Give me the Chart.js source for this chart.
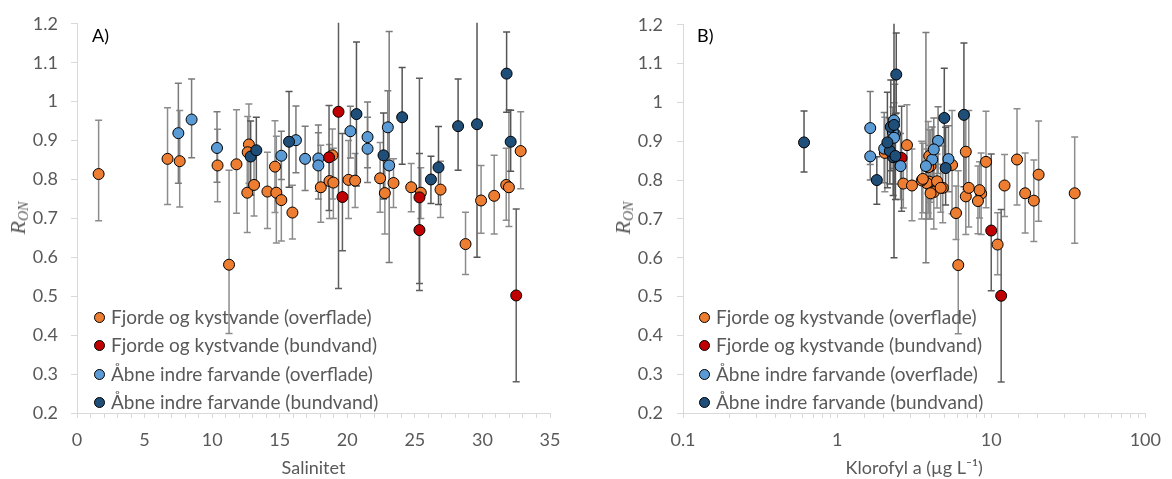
<!DOCTYPE html>
<html>
<head>
<meta charset="utf-8">
<script src="https://cdn.jsdelivr.net/npm/chart.js@4.4.1/dist/chart.umd.min.js"></script>
<style>
  body { margin: 0; background: #fff; width: 1172px; height: 479px; overflow: hidden; position: relative; font-family: Lato, sans-serif; }
  canvas { position: absolute; top: 0; }
  .lbl { position: absolute; font-size: 18px; color: #000; line-height: 20px; }
  .yt { position: absolute; font-family: "Liberation Serif", serif; font-style: italic; font-size: 22px; color: #595959;
        transform: translate(-50%, -50%) rotate(-90deg); white-space: nowrap; line-height: 24px; }
  .yt sub { font-size: 14px; vertical-align: -3px; }
  .leg { position: absolute; font-size: 19px; color: #595959; line-height: 22px; white-space: nowrap; }
  .leg span { display: inline-block; width: 9px; height: 9px; border-radius: 50%; border: 1px solid #000; margin-right: 6px; vertical-align: 1px; }
</style>
</head>
<body>
<canvas id="chartA" width="586" height="479" style="left:0"></canvas>
<canvas id="chartB" width="586" height="479" style="left:586px"></canvas>
<div class="lbl" style="left:92px;top:25px">A)</div>
<div class="lbl" style="left:697px;top:25px">B)</div>
<div class="yt" style="left:21px;top:218px">R<sub>ON</sub></div>
<div class="yt" style="left:626px;top:218px">R<sub>ON</sub></div>
<div id="legA"></div>
<div id="legB"></div>
<script>
// Fjorde og kystvande (overflade)
const orangeSal = [1.6, 6.7, 7.6, 10.4, 11.8, 11.25, 12.72, 12.63, 12.6, 13.1, 14.09, 14.65, 14.75, 15.12, 15.94, 18.04, 18.68,
                   18.97, 18.9, 20.09, 20.58, 22.43, 22.78, 23.42, 24.73, 25.44, 26.9, 29.9, 30.87, 31.76, 31.96, 32.83, 28.75];
const orangeChl = [20.3, 14.7, 9.25, 4.04, 5.57, 6.11, 2.84, 2.04, 16.6, 12.2, 4.24, 3.9, 34.8, 18.9, 5.91, 4.85, 3.96,
                   3.82, 3.96, 3.54, 4.45, 3.6, 8.6, 2.69, 4.7, 4.04, 8.4, 8.2, 6.84, 3.06, 7.15, 6.84, 11.0];
const orangeR   = [0.814, 0.853, 0.847, 0.836, 0.839, 0.581, 0.890, 0.870, 0.766, 0.786, 0.769, 0.833, 0.766, 0.747, 0.715, 0.780, 0.796,
                   0.792, 0.862, 0.799, 0.797, 0.803, 0.765, 0.791, 0.780, 0.766, 0.774, 0.746, 0.758, 0.786, 0.780, 0.873, 0.634];
const orangeLo  = [0.694, 0.736, 0.729, 0.743, 0.713, 0.404, 0.79, 0.77, 0.664, 0.706, 0.674, 0.715, 0.637, 0.642, 0.647, 0.69, 0.70,
                   0.70, 0.75, 0.70, 0.728, 0.716, 0.66, 0.728, 0.717, 0.70, 0.702, 0.662, 0.66, 0.695, 0.679, 0.776, 0.556];
const orangeHi  = [0.952, 0.984, 0.977, 0.929, 0.979, 0.824, 0.994, 0.962, 0.87, 0.866, 0.870, 0.951, 0.911, 0.852, 0.785, 0.888, 0.89,
                   0.88, 0.93, 0.90, 0.867, 0.895, 0.87, 0.853, 0.841, 0.83, 0.847, 0.836, 0.862, 0.88, 0.979, 0.974, 0.716];

// Fjorde og kystvande (bundvand) - null = no chlorophyll value
const redSal = [18.65, 19.35, 19.64, 25.34, 25.34, 32.5];
const redChl = [2.62, null, null, null, 10.0, 11.6];
const redR   = [0.857, 0.974, 0.755, 0.754, 0.670, 0.502];
const redLo  = [0.72, 0.52, 0.617, 0.533, 0.515, 0.28];
const redHi  = [0.99, 1.43, 0.918, 1.06, 0.867, 0.724];

// Åbne indre farvande (overflade)
const lightSal = [7.5, 8.48, 10.36, 15.12, 16.2, 16.88, 17.86, 17.86, 20.23, 21.5, 21.5, 23.0, 23.1];
const lightChl = [2.37, 2.34, 2.02, 1.64, 4.52, 4.14, 5.28, 2.58, 2.3, 2.34, 4.24, 1.64, 3.77];
const lightR   = [0.919, 0.954, 0.881, 0.861, 0.901, 0.853, 0.854, 0.836, 0.924, 0.909, 0.879, 0.934, 0.836];
const lightLo  = [0.79, 0.856, 0.793, 0.80, 0.817, 0.772, 0.77, 0.75, 0.855, 0.83, 0.792, 0.84, 0.587];
const lightHi  = [1.047, 1.058, 0.974, 0.924, 0.989, 0.937, 0.94, 0.92, 0.988, 0.999, 0.96, 1.028, 1.18];

// Åbne indre farvande (bundvand)
const darkSal = [12.85, 13.27, 15.69, 20.68, 22.68, 24.06, 26.19, 26.75, 28.2, 29.6, 31.79, 32.09];
const darkChl = [2.31, 2.2, 2.12, 6.65, 2.39, 4.96, 1.81, 5.06, 2.23, 2.34, 2.42, 0.61];
const darkR   = [0.859, 0.875, 0.897, 0.968, 0.862, 0.960, 0.800, 0.831, 0.937, 0.942, 1.072, 0.897];
const darkLo  = [0.76, 0.79, 0.78, 0.783, 0.75, 0.839, 0.738, 0.736, 0.824, 0.60, 0.973, 0.821];
const darkHi  = [0.95, 0.96, 1.026, 1.153, 0.971, 1.088, 0.86, 0.936, 1.058, 1.28, 1.179, 0.978];

const seriesNames = ['Fjorde og kystvande (overflade)', 'Fjorde og kystvande (bundvand)',
                     'Åbne indre farvande (overflade)', 'Åbne indre farvande (bundvand)'];
const seriesColors = ['#ED7D31', '#C00000', '#5B9BD5', '#1F4E79'];
const barColors = ['#8c8c8c', '#5f5f5f', '#7a7a7a', '#555555'];

const yTicks = [0.2, 0.3, 0.4, 0.5, 0.6, 0.7, 0.8, 0.9, 1.0, 1.1, 1.2];
const salTickLabels = [0, 5, 10, 15, 20, 25, 30, 35];
const chlTickLabels = [0.1, 1, 10, 100];

const series = [
  [orangeSal, orangeChl, orangeR, orangeLo, orangeHi],
  [redSal, redChl, redR, redLo, redHi],
  [lightSal, lightChl, lightR, lightLo, lightHi],
  [darkSal, darkChl, darkR, darkLo, darkHi]
];

function makeDatasets(useChl) {
  return series.map((s, k) => {
    const xs = useChl ? s[1] : s[0];
    const pts = [];
    s[2].forEach((r, i) => {
      if (xs[i] !== null) pts.push({ x: xs[i], y: r, lo: s[3][i], hi: s[4][i] });
    });
    return {
      label: seriesNames[k],
      data: pts,
      backgroundColor: seriesColors[k],
      borderColor: '#000',
      borderWidth: 1,
      pointRadius: 5.5,
      barColor: barColors[k],
      order: 4 - k
    };
  });
}

// error bars, drawn under the markers
const errorBars = {
  id: 'errorBars',
  beforeDatasetsDraw(chart) {
    const { ctx, chartArea, scales: { x, y } } = chart;
    ctx.save();
    ctx.beginPath();
    ctx.rect(chartArea.left, chartArea.top - 1, chartArea.width, chartArea.height + 2);
    ctx.clip();
    ctx.lineWidth = 1.5;
    chart.data.datasets.forEach(ds => {
      ctx.strokeStyle = ds.barColor;
      ds.data.forEach(p => {
        const px = x.getPixelForValue(p.x);
        const yLo = y.getPixelForValue(p.lo), yHi = y.getPixelForValue(p.hi);
        ctx.beginPath();
        ctx.moveTo(px, yLo); ctx.lineTo(px, yHi);
        ctx.moveTo(px - 3.5, yLo); ctx.lineTo(px + 3.5, yLo);
        ctx.moveTo(px - 3.5, yHi); ctx.lineTo(px + 3.5, yHi);
        ctx.stroke();
      });
    });
    ctx.restore();
  }
};

const tickFont = { family: 'Lato', size: 18 };
const titleFont = { family: 'Lato', size: 18 };
const axisGray = '#d9d9d9';

function yScale(width, pad) {
  return {
    min: 0.2, max: 1.2,
    afterBuildTicks: s => { s.ticks = yTicks.map(v => ({ value: v })); },
    afterFit: s => { s.width = width; },
    grid: { drawOnChartArea: false, tickLength: 6, color: axisGray },
    border: { color: axisGray },
    ticks: { font: tickFont, color: '#595959', padding: pad, callback: v => String(+v.toFixed(1)) }
  };
}

new Chart(document.getElementById('chartA'), {
  type: 'scatter',
  data: { datasets: makeDatasets(false) },
  options: {
    responsive: false, animation: false,
    layout: { padding: { left: 0, right: 36, top: 22, bottom: 0 } },
    plugins: { legend: { display: false }, tooltip: { enabled: false } },
    scales: {
      x: {
        type: 'linear', min: 0, max: 35,
        afterBuildTicks: s => { s.ticks = []; for (let v = 0; v <= 35; v++) s.ticks.push({ value: v }); },
        afterFit: s => { s.height = 66; },
        grid: { drawOnChartArea: false, tickLength: 5, color: axisGray },
        border: { color: axisGray },
        ticks: { font: tickFont, color: '#595959', padding: 11, autoSkip: false, maxRotation: 0,
                 callback: v => salTickLabels.includes(v) ? String(v) : '' },
        title: { display: true, text: 'Salinitet', color: '#595959', font: titleFont, padding: { top: 0, bottom: 0 } }
      },
      y: yScale(77, 13)
    }
  },
  plugins: [errorBars]
});

new Chart(document.getElementById('chartB'), {
  type: 'scatter',
  data: { datasets: makeDatasets(true) },
  options: {
    responsive: false, animation: false,
    layout: { padding: { left: 0, right: 17, top: 22, bottom: 0 } },
    plugins: { legend: { display: false }, tooltip: { enabled: false } },
    scales: {
      x: {
        type: 'logarithmic', min: 0.1, max: 100,
        afterFit: s => { s.height = 66; },
        grid: { drawOnChartArea: false, tickLength: 5, color: axisGray },
        border: { color: axisGray },
        ticks: { font: tickFont, color: '#595959', padding: 11, autoSkip: false, maxRotation: 0,
                 callback: v => {
                   const m = chlTickLabels.find(t => Math.abs(t - v) < 1e-9 * Math.max(1, t));
                   return m !== undefined ? String(m) : '';
                 } },
        title: { display: true, text: 'Klorofyl a (µg L⁻¹)', color: '#595959', font: titleFont, padding: { top: 0, bottom: 0 } }
      },
      y: yScale(97, 14)
    }
  },
  plugins: [errorBars]
});

// legends inside the plot areas
function buildLegend(id, left, top) {
  const box = document.getElementById(id);
  seriesNames.forEach((name, k) => {
    const d = document.createElement('div');
    d.className = 'leg';
    d.style.left = left + 'px';
    d.style.top = (top + k * 28.3) + 'px';
    d.innerHTML = '<span style="background:' + seriesColors[k] + '"></span>' + name;
    box.appendChild(d);
  });
}
buildLegend('legA', 94, 306);
buildLegend('legB', 699, 306);
</script>
</body>
</html>
